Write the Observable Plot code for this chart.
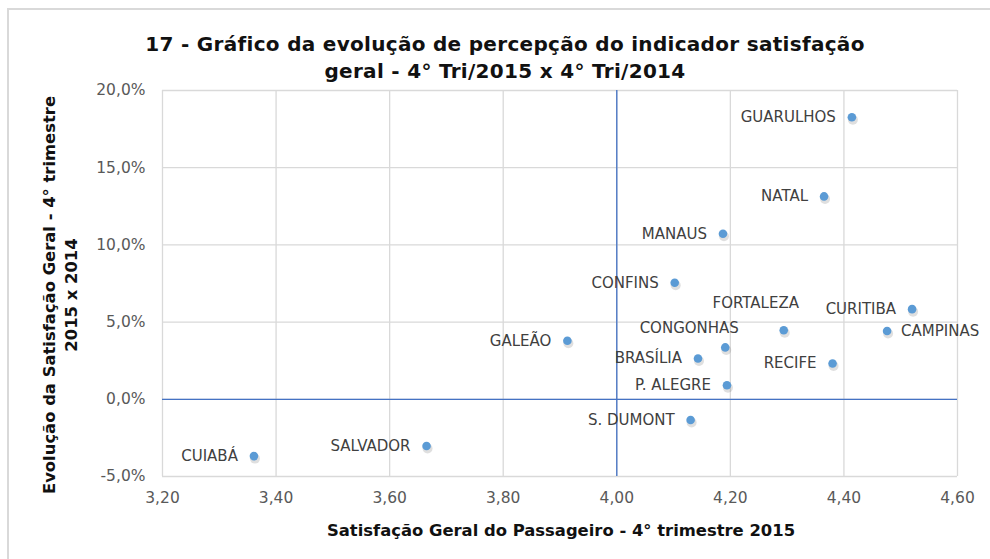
<!DOCTYPE html>
<html>
<head>
<meta charset="utf-8">
<script src="https://cdn.jsdelivr.net/npm/d3@7"></script>
<script src="https://cdn.jsdelivr.net/npm/@observablehq/plot@0.6"></script>
<style>
  html, body { margin: 0; padding: 0; background: #ffffff; }
  #wrap { position: relative; width: 990px; height: 559px; overflow: hidden; font-family: "DejaVu Sans", sans-serif; }
  #frame { position: absolute; left: 7px; top: 8px; right: 0; bottom: 0; border-left: 2px solid #d9d9d9; border-top: 2px solid #d9d9d9; }
  #chart { position: absolute; left: 0; top: 0; }
  .title { position: absolute; left: 20px; width: 970px; top: 31px; text-align: center; font-weight: bold; font-size: 20px; letter-spacing: 0.3px; line-height: 27px; color: #111111; }
  .ytitle { position: absolute; left: 61px; top: 295px; transform: translate(-50%, -50%) rotate(-90deg); white-space: nowrap; text-align: center; font-weight: bold; font-size: 16.4px; line-height: 22px; color: #111111; }
  .xtitle { position: absolute; left: 561px; top: 530px; transform: translate(-50%, -50%); white-space: nowrap; font-weight: bold; font-size: 16.4px; color: #111111; }
</style>
</head>
<body>
<div id="wrap">
  <div id="frame"></div>
  <div id="chart"></div>
  <div class="title">17 - Gráfico da evolução de percepção do indicador satisfação<br>geral - 4° Tri/2015 x 4° Tri/2014</div>
  <div class="ytitle">Evolução da Satisfação Geral - 4° trimestre<br>2015 x 2014</div>
  <div class="xtitle">Satisfação Geral do Passageiro - 4° trimestre 2015</div>
</div>
<script>
// ---- data ----
const airports = ["GUARULHOS", "NATAL", "MANAUS", "CONFINS", "CURITIBA", "FORTALEZA", "CAMPINAS", "GALEÃO", "CONGONHAS", "BRASÍLIA", "RECIFE", "P. ALEGRE", "S. DUMONT", "SALVADOR", "CUIABÁ"];
const satisfacao2015 = [4.414, 4.365, 4.187, 4.102, 4.520, 4.294, 4.476, 3.913, 4.191, 4.143, 4.380, 4.194, 4.130, 3.665, 3.361];
const evolucaoPct = [18.27, 13.14, 10.72, 7.55, 5.84, 4.47, 4.42, 3.79, 3.36, 2.64, 2.32, 0.91, -1.34, -3.02, -3.68];
const xTicks = [3.2, 3.4, 3.6, 3.8, 4.0, 4.2, 4.4, 4.6];
const yTicks = [-5, 0, 5, 10, 15, 20];
const xRef = [4.0];
const yRef = [0];

const data = airports.map((name, i) => ({ name, x: satisfacao2015[i], y: evolucaoPct[i] }));
const leftLabels = data.filter(d => !["CAMPINAS", "FORTALEZA", "CONGONHAS"].includes(d.name));
const pick = n => data.filter(d => d.name === n);

const fmtX = d => d.toFixed(2).replace(".", ",");
const fmtY = d => d.toFixed(1).replace(".", ",") + "%";

const labelStyle = { fill: "#404040", fontSize: 15, fontFamily: "DejaVu Sans", letterSpacing: "0.8px" };

const chart = Plot.plot({
  width: 990,
  height: 559,
  marginLeft: 162,
  marginRight: 33,
  marginTop: 90,
  marginBottom: 83,
  style: { fontFamily: "DejaVu Sans", fontSize: "15.5px", color: "#595959", background: "transparent" },
  x: { domain: [3.2, 4.6], ticks: xTicks, tickFormat: fmtX, tickSize: 0, tickPadding: 15, label: null },
  y: { domain: [-5, 20], ticks: yTicks, tickFormat: fmtY, tickSize: 0, tickPadding: 17, label: null },
  marks: [
    Plot.gridX(xTicks, { stroke: "#d9d9d9", strokeOpacity: 1, strokeWidth: 1.3 }),
    Plot.gridY(yTicks, { stroke: "#d9d9d9", strokeOpacity: 1, strokeWidth: 1.3 }),
    Plot.ruleX(xRef, { stroke: "#4472c4", strokeWidth: 1.3 }),
    Plot.ruleY(yRef, { stroke: "#4472c4", strokeWidth: 1.3 }),
    Plot.dot(data, { x: "x", y: "y", r: 5, fill: "#7f7f7f", fillOpacity: 0.25, dx: 1, dy: 2.5 }),
    Plot.dot(data, { x: "x", y: "y", r: 4.3, fill: "#5b9bd5" }),
    Plot.text(leftLabels, { x: "x", y: "y", text: "name", textAnchor: "end", dx: -16, ...labelStyle }),
    Plot.text(pick("CAMPINAS"), { x: "x", y: "y", text: "name", textAnchor: "start", dx: 14, ...labelStyle }),
    Plot.text(pick("FORTALEZA"), { x: "x", y: "y", text: "name", textAnchor: "middle", dx: -28, dy: -27, ...labelStyle }),
    Plot.text(pick("CONGONHAS"), { x: "x", y: "y", text: "name", textAnchor: "middle", dx: -36, dy: -19, ...labelStyle })
  ]
});
document.getElementById("chart").appendChild(chart);
</script>
</body>
</html>
